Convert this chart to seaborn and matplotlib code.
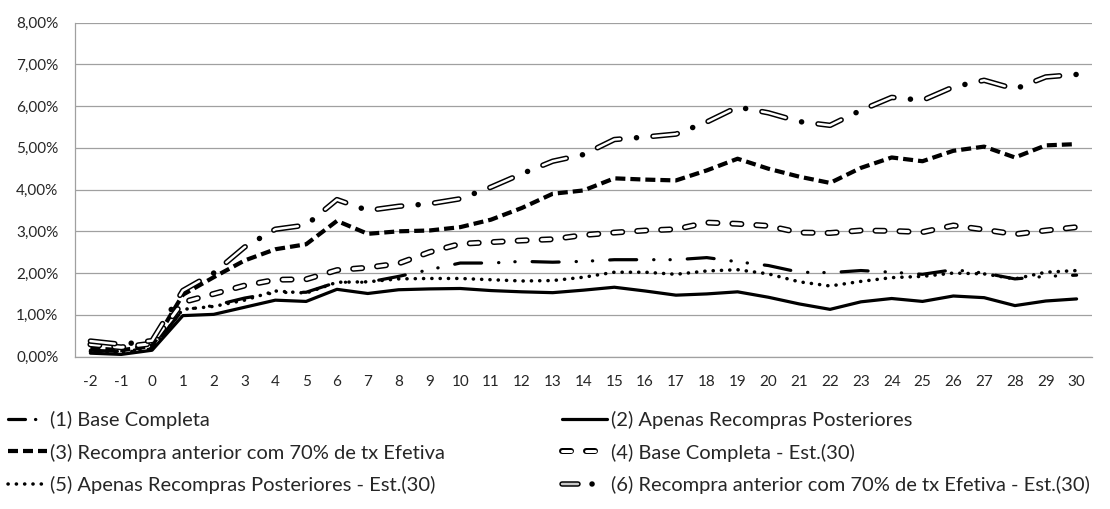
import numpy as np
import pandas as pd
import seaborn as sns
import matplotlib.pyplot as plt
from matplotlib.lines import Line2D
from matplotlib.ticker import MultipleLocator, FuncFormatter

sns.set_style("white")
plt.rcParams["font.family"] = ["Lato", "DejaVu Sans"]
plt.rcParams["axes.unicode_minus"] = False
# padrões de traço em pontos, sem escalar pela espessura
plt.rcParams["lines.scale_dashes"] = False

# dias em relação ao evento
dias = list(range(-2, 31))

# retornos anormais acumulados (%)
base_completa = [0.15, 0.12, 0.20, 1.12, 1.22, 1.40, 1.53, 1.54, 1.78, 1.78, 1.92, 2.08, 2.24,
                 2.24, 2.28, 2.26, 2.28, 2.32, 2.32, 2.32, 2.37, 2.27, 2.18, 2.02, 2.01, 2.06,
                 2.02, 1.97, 2.08, 2.00, 1.86, 1.92, 1.95]
apenas_posteriores = [0.08, 0.05, 0.15, 0.98, 1.01, 1.18, 1.35, 1.32, 1.61, 1.51, 1.60, 1.62, 1.63,
                      1.58, 1.55, 1.53, 1.59, 1.66, 1.57, 1.47, 1.50, 1.55, 1.42, 1.26, 1.13, 1.31,
                      1.39, 1.32, 1.45, 1.41, 1.22, 1.33, 1.38]
recompra_70 = [0.20, 0.15, 0.25, 1.48, 1.90, 2.30, 2.57, 2.69, 3.25, 2.94, 3.00, 3.02, 3.10,
               3.28, 3.56, 3.90, 3.98, 4.27, 4.24, 4.22, 4.46, 4.74, 4.50, 4.31, 4.16, 4.52,
               4.77, 4.68, 4.93, 5.03, 4.77, 5.06, 5.09]
base_completa_est = [0.29, 0.22, 0.31, 1.30, 1.50, 1.70, 1.84, 1.85, 2.07, 2.13, 2.23, 2.50, 2.70,
                     2.74, 2.78, 2.81, 2.91, 2.97, 3.02, 3.05, 3.21, 3.18, 3.13, 2.97, 2.96, 3.02,
                     3.01, 2.98, 3.14, 3.04, 2.93, 3.02, 3.10]
apenas_posteriores_est = [0.12, 0.09, 0.18, 1.13, 1.20, 1.35, 1.57, 1.52, 1.78, 1.79, 1.86, 1.87,
                          1.87, 1.84, 1.81, 1.82, 1.90, 2.02, 2.02, 1.97, 2.05, 2.08, 1.98, 1.79,
                          1.69, 1.80, 1.89, 1.92, 2.00, 1.98, 1.86, 2.02, 2.06]
recompra_70_est = [0.37, 0.29, 0.38, 1.58, 2.00, 2.62, 3.05, 3.15, 3.76, 3.50, 3.60, 3.66, 3.78,
                   4.06, 4.38, 4.68, 4.84, 5.20, 5.26, 5.33, 5.62, 5.98, 5.84, 5.63, 5.54, 5.90,
                   6.21, 6.14, 6.46, 6.62, 6.41, 6.70, 6.76]

rotulos = ["(1) Base Completa",
           "(2) Apenas Recompras Posteriores",
           "(3) Recompra anterior com 70% de tx Efetiva",
           "(4) Base Completa - Est.(30)",
           "(5) Apenas Recompras Posteriores - Est.(30)",
           "(6) Recompra anterior com 70% de tx Efetiva - Est.(30)"]

df = pd.DataFrame({"dia": dias, "s1": base_completa, "s2": apenas_posteriores,
                   "s3": recompra_70, "s4": base_completa_est,
                   "s5": apenas_posteriores_est, "s6": recompra_70_est})

PX = 0.72  # 1 pixel em pontos (dpi 100)


def px(*v):
    return tuple(x * PX for x in v)


fig = plt.figure(figsize=(11.1, 5.09), dpi=100)
ax = fig.add_axes([75 / 1110, 1 - 356.5 / 509, 1017 / 1110, 333.8 / 509])

redondo = dict(dash_capstyle="round", solid_capstyle="round", solid_joinstyle="round")


def linha(col, **kw):
    sns.lineplot(data=df, x="dia", y=col, ax=ax, **kw)
    return ax.lines[-1]


l1 = linha("s1", color="black", linewidth=3.2 * PX,
           linestyle=(0, px(27, 17, 0.3, 16, 0.3, 17)), **redondo)
l2 = linha("s2", color="black", linewidth=3.2 * PX, **redondo)
l3 = linha("s3", color="black", linewidth=4.2 * PX, linestyle=(0, px(10, 5)),
           dash_capstyle="butt", solid_joinstyle="round")
l4a = linha("s4", color="black", linewidth=6 * PX, linestyle=(0, px(9, 15)), **redondo)
l4b = linha("s4", color="white", linewidth=3 * PX, linestyle=(0, px(9, 15)), **redondo)
l5 = linha("s5", color="black", linewidth=3.5 * PX, linestyle=(0, px(0.2, 8.1)), **redondo)
l6a = linha("s6", color="black", linewidth=5.5 * PX,
            linestyle=(0, px(24.5, 16.5, 0.1, 16.5)), **redondo)
l6b = linha("s6", color="white", linewidth=2.5 * PX, linestyle=(0, px(24.5, 33.1)), **redondo)

# eixos no estilo da planilha
cinza = "#a0a0a0"
ax.set_xlim(-2.5, 30.5)
ax.set_ylim(0, 8)
ax.set_xticks(dias)
ax.set_xticks(np.arange(-2.5, 31, 1), minor=True)
ax.yaxis.set_major_locator(MultipleLocator(1))
ax.yaxis.set_major_formatter(FuncFormatter(lambda v, p: f"{v:.2f}".replace(".", ",") + "%"))
ax.tick_params(axis="x", which="major", length=0, pad=13, labelsize=11)
ax.tick_params(axis="x", which="minor", length=3.6, width=0.8, color=cinza)
ax.tick_params(axis="y", length=5, width=0.8, color=cinza, pad=7, labelsize=11)
ax.grid(axis="y", color=cinza, linewidth=0.9)
ax.grid(axis="x", visible=False)
ax.set_axisbelow(True)
for s in ["top", "right"]:
    ax.spines[s].set_visible(False)
for s in ["left", "bottom"]:
    ax.spines[s].set_color(cinza)
    ax.spines[s].set_linewidth(0.9)
ax.set_xlabel("")
ax.set_ylabel("")

# alças da legenda com traços mais curtos
p1 = Line2D([], [], color="black", linewidth=3.2 * PX,
            linestyle=(0, px(17, 10, 0.3, 30)), **redondo)
p6a = Line2D([], [], color="black", linewidth=5.5 * PX,
             linestyle=(0, px(16, 14, 0.1, 30)), **redondo)
p6b = Line2D([], [], color="#c8c8c8", linewidth=2.5 * PX,
             linestyle=(0, px(16, 50)), **redondo)

leg_kw = dict(loc="upper left", frameon=False, borderpad=0, borderaxespad=0,
              handletextpad=0.19, labelspacing=0.74, fontsize=14.5)
fig.legend([p1, l3, l5], [rotulos[0], rotulos[2], rotulos[4]],
           bbox_to_anchor=(8 / 1110, 1 - 410.5 / 509), handlelength=1.92, **leg_kw)
fig.legend([l2, (l4a, l4b), (p6a, p6b)], [rotulos[1], rotulos[3], rotulos[5]],
           bbox_to_anchor=(562 / 1110, 1 - 410.5 / 509), handlelength=2.22, **leg_kw)

fig.savefig("out.png", dpi=100)
